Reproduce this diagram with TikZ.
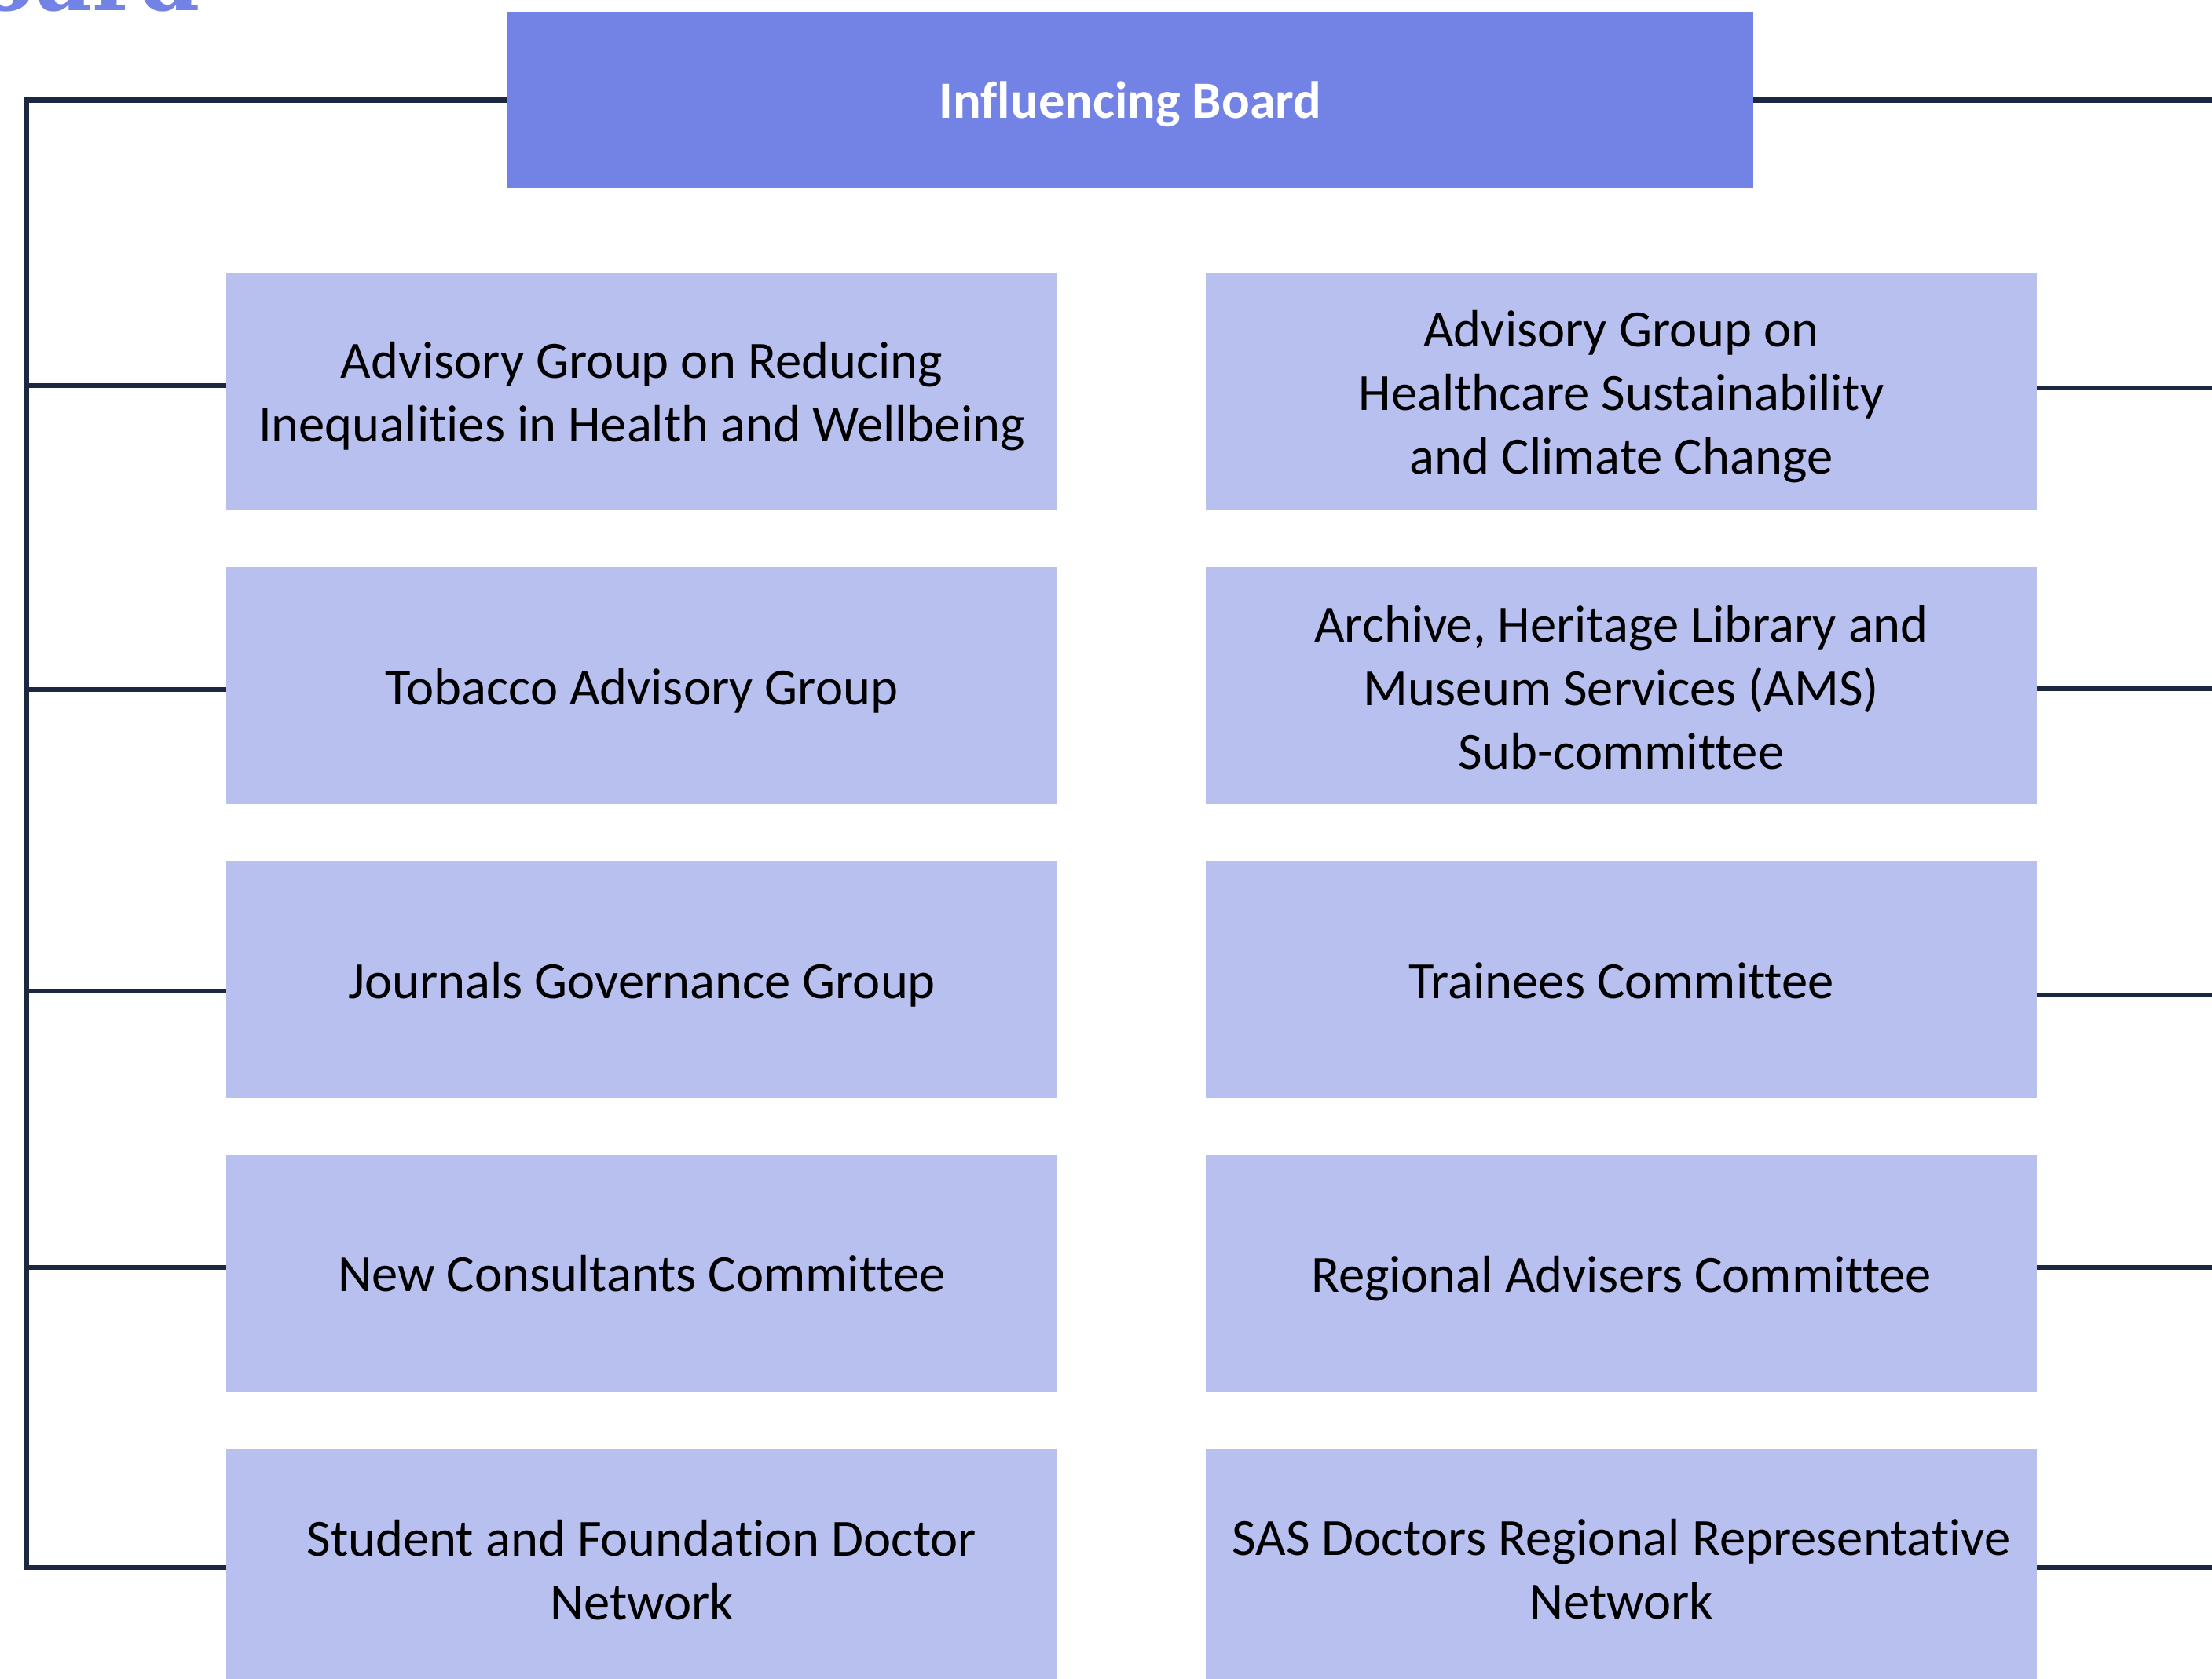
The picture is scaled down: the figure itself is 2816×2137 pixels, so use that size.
\documentclass[tikz,border=0pt]{standalone}
\usepackage{fontspec}
\setmainfont{Carlito}[Ligatures={NoCommon}]
\newfontfamily\titlefont{DejaVu Serif}
\usetikzlibrary{calc}
\definecolor{boardblue}{HTML}{7382E5}
\definecolor{lightblue}{HTML}{B8C0F0}
\definecolor{linenavy}{HTML}{1C2742}
\tikzset{
  topbox/.style={fill=boardblue, draw=none, inner sep=0pt, outer sep=0pt,
    minimum width=793pt, minimum height=112.5pt},
  toplabel/.style={text=white, inner sep=0pt, yshift=-2.5pt,
    font=\fontsize{33.3}{40.5}\selectfont\bfseries},
  subbox/.style={fill=lightblue, draw=none, inner sep=0pt, outer sep=0pt,
    minimum width=529pt, minimum height=151pt},
  sublabel/.style={text=black, align=center, inner sep=0pt, yshift=-3.5pt,
    font=\fontsize{33.3}{40.5}\selectfont},
  conn/.style={draw=linenavy, line width=3.25pt},
  titletext/.style={text=boardblue, inner sep=0pt, outer sep=0pt,
    font=\fontsize{56}{60}\selectfont\titlefont\bfseries}
}
\begin{document}
\begin{tikzpicture}[x=0.5pt, y=-0.5pt]
\useasboundingbox (0,0) rectangle (2816,2137);
% page title (cut at top edge, as in the reference)
\node[titletext, anchor=base east] (title) at (255,13) {Board};
% boxes
\node[topbox, label={[toplabel]center:Influencing Board}] (top) at (1439,127.5) {};
\node[subbox, label={[sublabel]center:Advisory Group on Reducing\\Inequalities in Health and Wellbeing}] (l1) at (817,498) {};
\node[subbox, label={[sublabel]center:Tobacco Advisory Group}] (l2) at (817,872.5) {};
\node[subbox, label={[sublabel]center:Journals Governance Group}] (l3) at (817,1247) {};
\node[subbox, label={[sublabel, yshift=3.5pt]center:New Consultants Committee}] (l4) at (817,1621.5) {};
\node[subbox, label={[sublabel, yshift=1.8pt]center:Student and Foundation Doctor\\Network}] (l5) at (817,1996) {};
\node[subbox, label={[sublabel]center:Advisory Group on\\Healthcare Sustainability\\and Climate Change}] (r1) at (2064,498) {};
\node[subbox, label={[sublabel, yshift=1.8pt]center:Archive, Heritage Library and\\Museum Services (AMS)\\Sub-committee}] (r2) at (2064,872.5) {};
\node[subbox, label={[sublabel, yshift=2.7pt]center:Trainees Committee}] (r3) at (2064,1247) {};
\node[subbox, label={[sublabel]center:Regional Advisers Committee}] (r4) at (2064,1621.5) {};
\node[subbox, label={[sublabel, yshift=2.7pt]center:SAS Doctors Regional Representative\\Network}] (r5) at (2064,1996) {};
% trunk on the left
\coordinate (tk) at (34,0);
\coordinate (re) at (2840,0);
\draw[conn] (top.west) -| (tk |- l5.west) -- (l5.west);
\coordinate (a1) at ($(l1.west)+(0,-7)$);
\coordinate (a2) at ($(l2.west)+(0,5.5)$);
\coordinate (a3) at ($(l3.west)+(0,15)$);
\coordinate (a4) at ($(l4.west)+(0,-7.5)$);
\foreach \a in {a1,a2,a3,a4} \draw[conn] (\a -| tk) -- (\a);
% lines leaving on the right
\draw[conn] (top.east) -- (top.east -| re);
\coordinate (b1) at ($(r1.east)+(0,-4)$);
\coordinate (b2) at ($(r2.east)+(0,4.5)$);
\coordinate (b3) at ($(r3.east)+(0,20)$);
\coordinate (b4) at ($(r4.east)+(0,-7.5)$);
\coordinate (b5) at (r5.east);
\foreach \b in {b1,b2,b3,b4,b5} \draw[conn] (\b) -- (\b -| re);
\end{tikzpicture}
\end{document}
